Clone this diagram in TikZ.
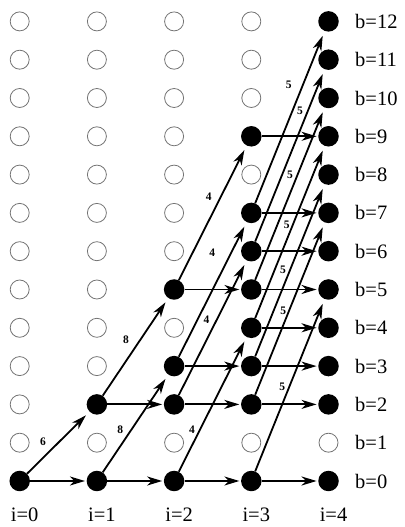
\documentclass[tikz,border=0pt]{standalone}
\usepackage{fontspec}
\setmainfont{Liberation Serif}
\usetikzlibrary{arrows.meta}
\begin{document}
\begin{tikzpicture}[x=1pt,y=1pt,
  emptynode/.style={circle, draw=black!55, line width=0.8pt, minimum size=19pt, inner sep=0pt},
  fullnode/.style={circle, fill=black, minimum size=20.5pt, inner sep=0pt},
  harr/.style={line width=1.8pt, -{Stealth[length=15pt,width=9pt,inset=4.5pt]}, shorten >=1.5pt},
  darr/.style={line width=1.8pt, -{Stealth[length=15pt,width=9pt,inset=4.5pt]}, shorten >=5pt},
  lab/.style={font=\bfseries\fontsize{11.5}{11.5}\selectfont, inner sep=0pt},
  txt/.style={font=\fontsize{20.5}{20.5}\selectfont, inner sep=0pt}
]
\useasboundingbox (0,0) rectangle (404,527);
% empty nodes
\foreach \i/\bl in {0/{1,2,3,4,5,6,7,8,9,10,11,12}, 1/{1,3,4,5,6,7,8,9,10,11,12}, 2/{1,4,6,7,8,9,10,11,12}, 3/{1,8,10,11,12}, 4/{1}}{
  \foreach \b in \bl {
    \node[emptynode] (n\i-\b) at ({19.7+77.2*\i},{46+38.3*\b}) {};
  }
}
% filled nodes
\foreach \i/\bl in {0/{0}, 1/{0,2}, 2/{0,2,3,5}, 3/{0,2,3,4,5,6,7,9}, 4/{0,2,3,4,5,6,7,8,9,10,11,12}}{
  \foreach \b in \bl {
    \node[fullnode] (n\i-\b) at ({19.7+77.2*\i},{46+38.3*\b}) {};
  }
}
% horizontal edges
\foreach \i/\j/\bl in {0/1/{0}, 1/2/{0,2}, 2/3/{0,2,3,5}, 3/4/{0,2,3,4,5,6,7,9}}{
  \foreach \b in \bl {
    \draw[harr] (n\i-\b) -- (n\j-\b);
  }
}
% item 1
\draw[darr] (n0-0) -- node[lab, pos=0.51, xshift=-16pt] (l1) {6} (n1-2);
% item 2
\draw[darr] (n1-0) -- node[lab, pos=0.435, xshift=-11pt] (l2a) {8} (n2-3);
\draw[darr] (n1-2) -- node[lab, pos=0.57, xshift=-14pt] (l2b) {8} (n2-5);
% item 3
\draw[darr] (n2-0) -- node[lab, pos=0.311, xshift=-8pt] (l3a) {4} (n3-4);
\draw[darr] (n2-2) -- node[lab, pos=0.557, xshift=-10pt] (l3b) {4} (n3-6);
\draw[darr] (n2-3) -- node[lab, pos=0.772, xshift=-19pt] (l3c) {4} (n3-7);
\draw[darr] (n2-5) -- node[lab, pos=0.618, xshift=-12pt] (l3d) {4} (n3-9);
% item 4
\draw[darr] (n3-0) -- node[lab, pos=0.489, xshift=-7pt] (l4a) {5} (n4-5);
\draw[darr] (n3-2) -- node[lab, pos=0.489, xshift=-6pt] (l4b) {5} (n4-7);
\draw[darr] (n3-3) -- node[lab, pos=0.503, xshift=-7pt] (l4c) {5} (n4-8);
\draw[darr] (n3-4) -- node[lab, pos=0.541, xshift=-6pt] (l4d) {5} (n4-9);
\draw[darr] (n3-5) -- node[lab, pos=0.609, xshift=-7.5pt] (l4e) {5} (n4-10);
\draw[darr] (n3-6) -- node[lab, pos=0.762, xshift=-8pt] (l4f) {5} (n4-11);
\draw[darr] (n3-7) -- node[lab, pos=0.686, xshift=-14pt] (l4g) {5} (n4-12);
% b labels
\foreach \b in {0,...,12}{
  \node[txt, anchor=west] (lb\b) at (355,{46+38.3*\b}) {b=\b};
}
% i labels
\foreach \i in {0,...,4}{
  \node[txt] (li\i) at ({24.7+77.2*\i},12) {i=\i};
}
\end{tikzpicture}
\end{document}
